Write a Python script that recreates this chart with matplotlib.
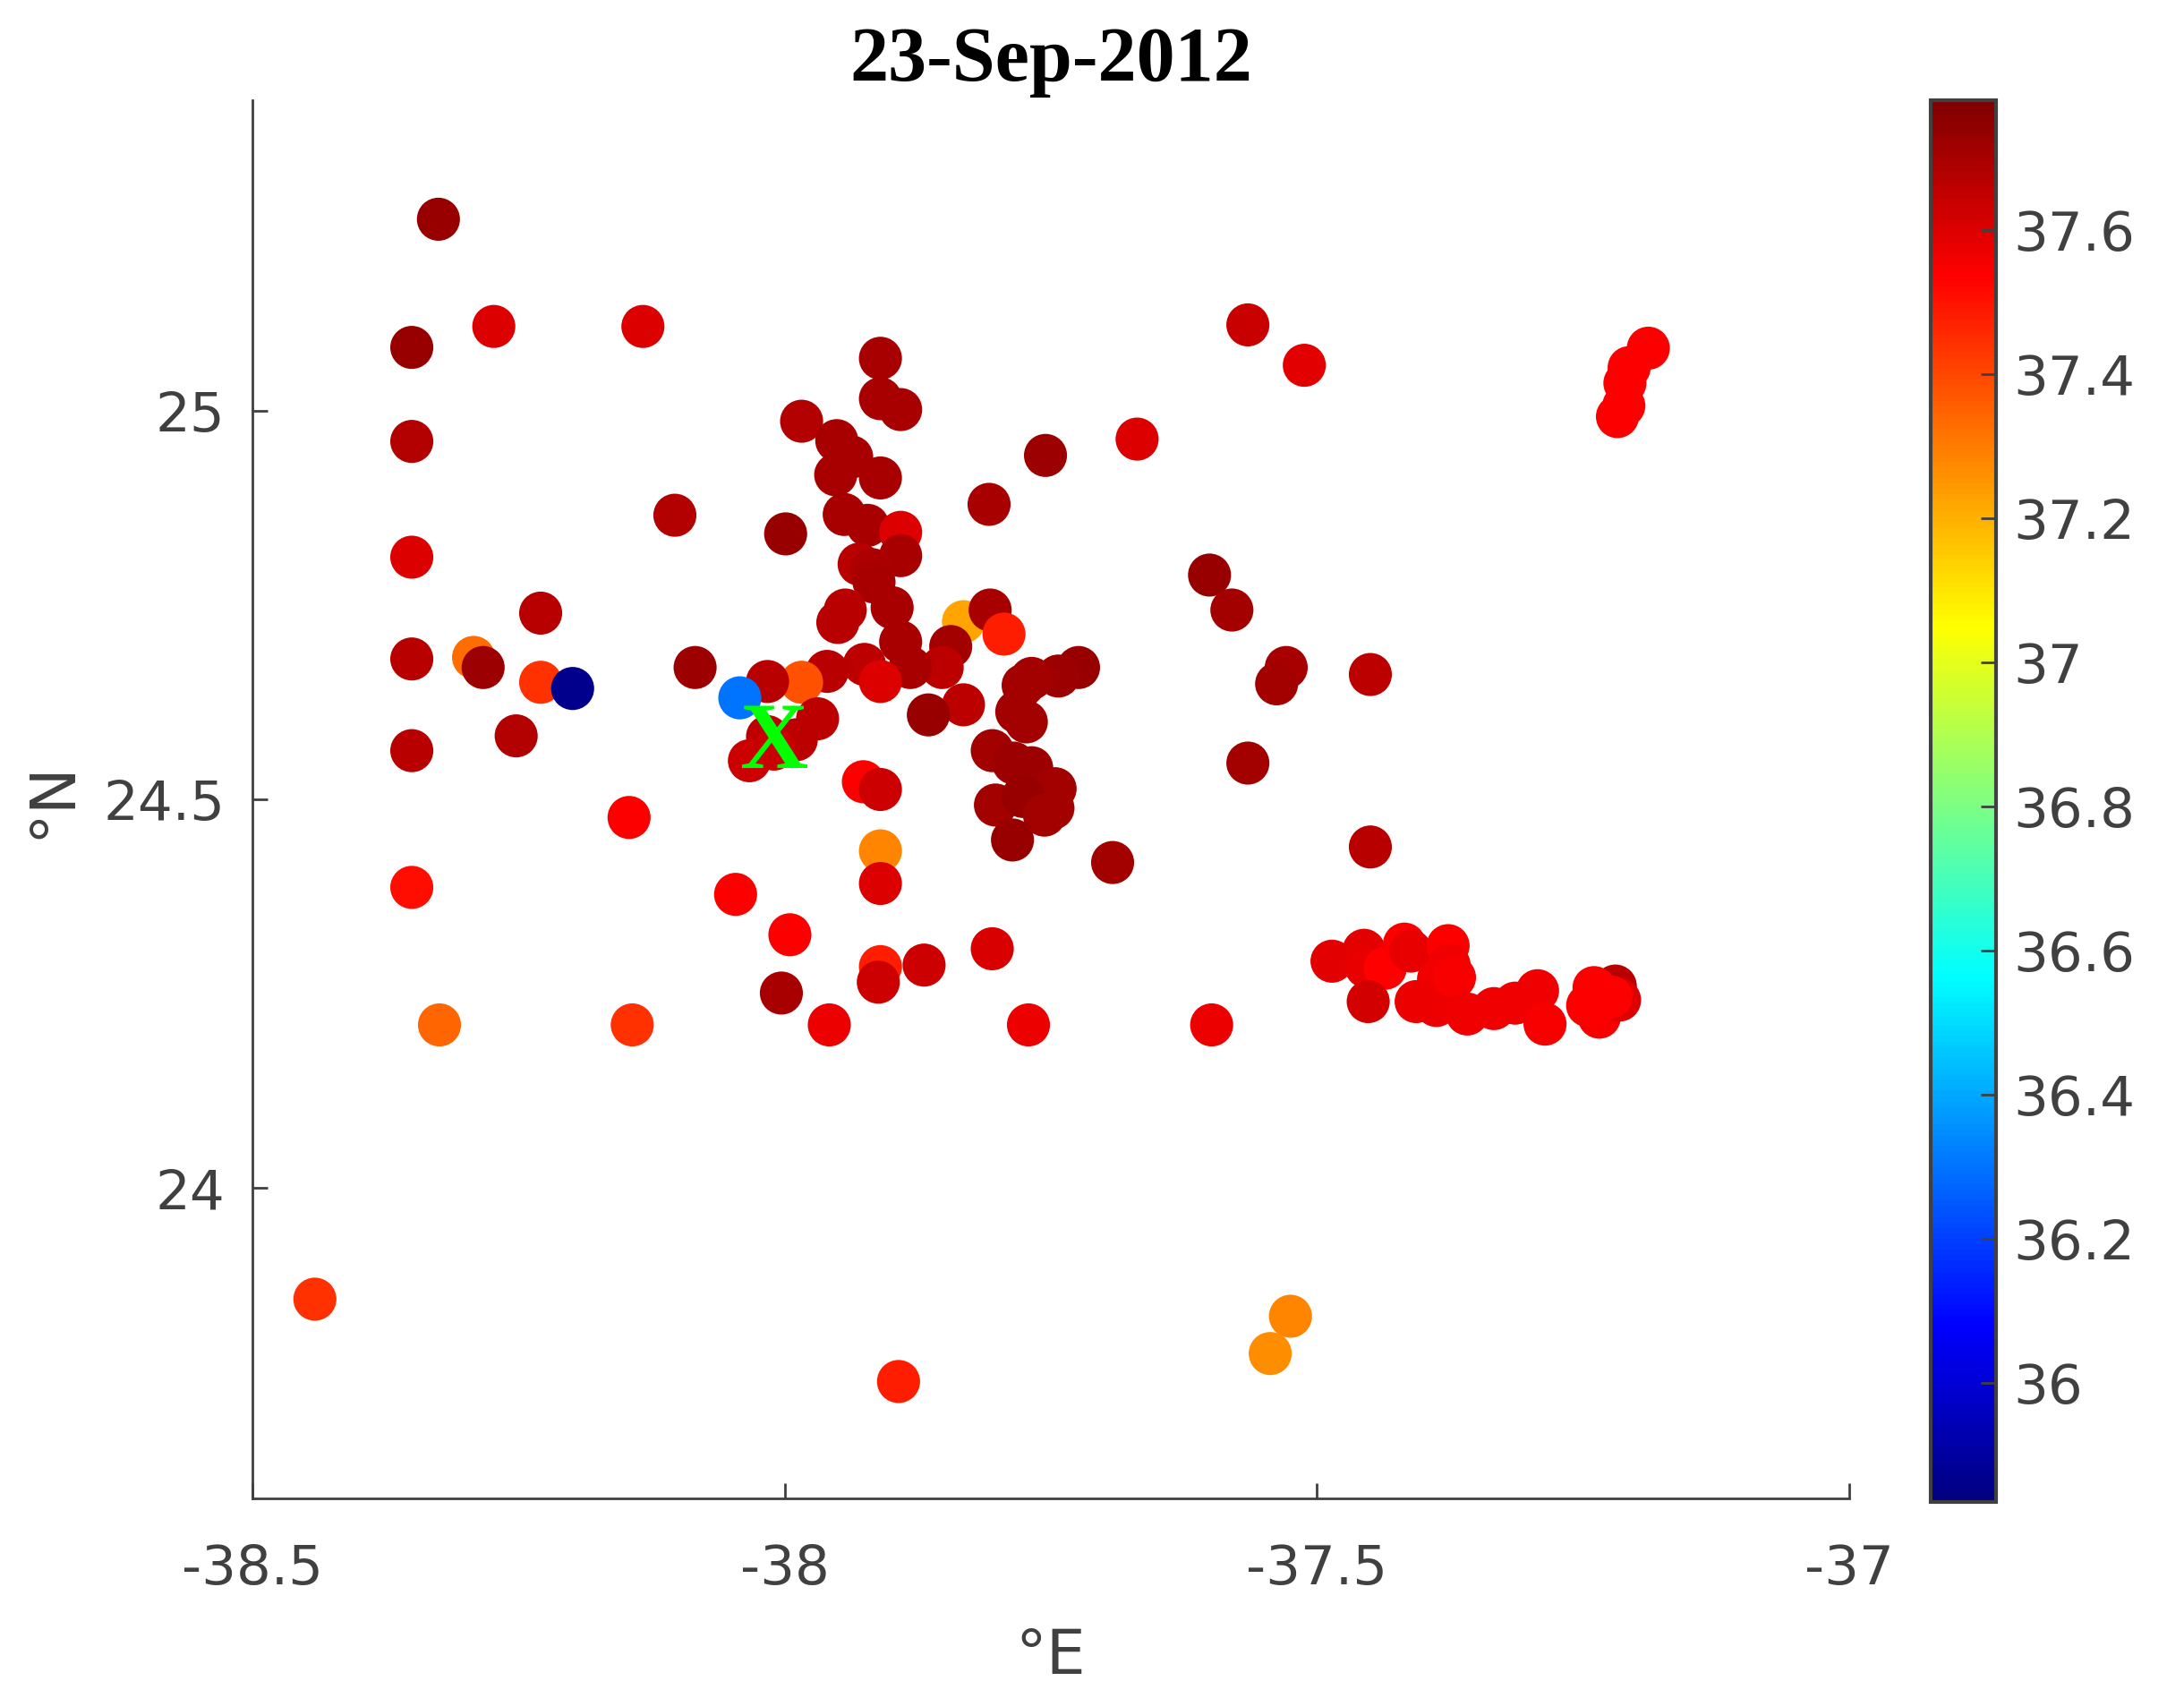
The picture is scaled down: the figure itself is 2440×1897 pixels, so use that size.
import numpy as np
import matplotlib
matplotlib.use("Agg")
import matplotlib.pyplot as plt
from matplotlib.colors import LinearSegmentedColormap

plt.rcParams["axes.unicode_minus"] = False
plt.rcParams["font.family"] = ["DejaVu Sans"]

# station positions (lon, lat) and surface value
lon = [-38.325, -38.350, -38.273, -38.133, -38.350, -38.103, -38.350, -38.229, -38.350, -38.292,
       -38.283, -38.229, -38.199, -38.084, -38.252, -38.350, -38.146, -38.350, -38.046, -38.324,
       -38.143, -38.441,
       -37.910, -37.910, -37.891, -37.984, -37.951, -37.937, -37.952, -37.910, -37.755, -37.808,
       -37.999, -37.944, -37.922, -37.891, -37.891, -37.930, -37.918, -37.916, -37.943, -37.950,
       -37.899, -37.832, -37.807, -37.794, -37.844, -37.891, -37.852, -37.882, -37.925, -37.910,
       -37.960, -37.984, -38.016, -38.042, -37.969, -37.989, -38.016, -38.033, -38.010, -37.832,
       -37.865, -37.724, -37.743, -37.768, -37.776, -37.782, -37.773, -37.805, -37.768, -37.785,
       -37.746, -37.748, -37.802, -37.776, -37.756, -37.786, -37.692, -37.926, -37.910, -37.910,
       -37.910, -37.995, -37.805, -37.910, -37.912, -37.869, -38.003, -37.958, -37.771, -37.599,
       -37.893,
       -37.565, -37.512, -37.669, -37.601, -37.580, -37.529, -37.538, -37.450, -37.565, -37.450,
       -37.189, -37.207, -37.211, -37.212, -37.218, -37.544, -37.525,
       -37.220, -37.486, -37.456, -37.454, -37.436, -37.452, -37.418, -37.412, -37.377, -37.376,
       -37.386, -37.407, -37.388, -37.371, -37.359, -37.334, -37.314, -37.293, -37.286, -37.240,
       -37.235, -37.216, -37.246, -37.224]
lat = [25.247, 25.082, 25.109, 25.109, 24.961, 24.866, 24.812, 24.740, 24.681, 24.683,
       24.670, 24.651, 24.643, 24.670, 24.582, 24.563, 24.477, 24.387, 24.378, 24.210,
       24.210, 23.857,
       25.068, 25.016, 25.002, 24.987, 24.962, 24.941, 24.918, 24.914, 24.943, 24.880,
       24.842, 24.867, 24.853, 24.844, 24.814, 24.803, 24.796, 24.780, 24.744, 24.728,
       24.747, 24.729, 24.744, 24.713, 24.697, 24.703, 24.670, 24.670, 24.674, 24.652,
       24.665, 24.651, 24.652, 24.631, 24.604, 24.577, 24.581, 24.550, 24.565, 24.622,
       24.609, 24.670, 24.659, 24.656, 24.647, 24.613, 24.600, 24.563, 24.541, 24.547,
       24.514, 24.489, 24.493, 24.504, 24.480, 24.448, 24.419, 24.523, 24.513, 24.434,
       24.392, 24.326, 24.308, 24.285, 24.265, 24.287, 24.251, 24.210, 24.210, 24.210,
       23.751,
       25.111, 25.059, 24.964, 24.789, 24.744, 24.670, 24.649, 24.661, 24.547, 24.439,
       25.081, 25.056, 25.036, 25.007, 24.993, 23.787, 23.835,
       24.260, 24.292, 24.306, 24.285, 24.283, 24.240, 24.314, 24.305, 24.312, 24.287,
       24.269, 24.240, 24.235, 24.271, 24.224, 24.231, 24.238, 24.254, 24.211, 24.258,
       24.220, 24.242, 24.235, 24.246]
val = [37.73, 37.73, 37.60, 37.60, 37.68, 37.68, 37.60, 37.67, 37.67, 37.33,
       37.72, 37.44, 35.86, 37.72, 37.68, 37.67, 37.54, 37.51, 37.54, 37.34,
       37.44, 37.44,
       37.70, 37.70, 37.70, 37.68, 37.70, 37.70, 37.70, 37.70, 37.72, 37.70,
       37.73, 37.70, 37.70, 37.60, 37.70, 37.67, 37.69, 37.70, 37.67, 37.67,
       37.70, 37.22, 37.70, 37.48, 37.71, 37.70, 37.66, 37.70, 37.66, 37.60,
       37.67, 37.38, 37.67, 36.30, 37.66, 37.66, 37.66, 37.63, 37.64, 37.66,
       37.73, 37.73, 37.72, 37.71, 37.71, 37.71, 37.71, 37.71, 37.72, 37.72,
       37.71, 37.71, 37.71, 37.73, 37.71, 37.73, 37.71, 37.54, 37.63, 37.28,
       37.60, 37.54, 37.61, 37.48, 37.63, 37.63, 37.70, 37.57, 37.57, 37.57,
       37.48,
       37.64, 37.59, 37.60, 37.73, 37.71, 37.70, 37.71, 37.66, 37.71, 37.67,
       37.54, 37.54, 37.54, 37.54, 37.54, 37.265, 37.28,
       37.67, 37.59, 37.59, 37.58, 37.53, 37.62, 37.54, 37.58, 37.54, 37.56,
       37.56, 37.57, 37.57, 37.55, 37.56, 37.56, 37.56, 37.56, 37.55, 37.54,
       37.55, 37.60, 37.54, 37.54]

x_ticks = [-38.5, -38, -37.5, -37]
x_ticklabels = ["-38.5", "-38", "-37.5", "-37"]
y_ticks = [24, 24.5, 25]
y_ticklabels = ["24", "24.5", "25"]
c_ticks = [36, 36.2, 36.4, 36.6, 36.8, 37, 37.2, 37.4, 37.6]
c_ticklabels = ["36", "36.2", "36.4", "36.6", "36.8", "37", "37.2", "37.4", "37.6"]
cmin, cmax = 35.835, 37.78
site_lon, site_lat = -38.01, 24.57

# matlab style jet
mjet = LinearSegmentedColormap("mjet", {
    "red":   [(0, 0, 0), (0.375, 0, 0), (0.625, 1, 1), (0.875, 1, 1), (1, 0.5, 0.5)],
    "green": [(0, 0, 0), (0.125, 0, 0), (0.375, 1, 1), (0.625, 1, 1), (0.875, 0, 0), (1, 0, 0)],
    "blue":  [(0, 0.5, 0.5), (0.125, 1, 1), (0.375, 1, 1), (0.625, 0, 0), (1, 0, 0)],
}, N=256)

gray = "#404040"
fig = plt.figure(figsize=(12.2, 9.485), dpi=200)
ax = fig.add_axes([0.1154, 0.1173, 0.7315, 0.8236])
cax = fig.add_axes([0.8839, 0.1157, 0.0300, 0.8253])

sc = ax.scatter(lon, lat, c=val, cmap=mjet, vmin=cmin, vmax=cmax, s=300,
                edgecolors="none", zorder=2)
ax.text(site_lon, site_lat, "X", color="#00ff00", fontsize=38, fontweight="bold",
        family="Liberation Serif", ha="center", va="center", zorder=3)

ax.set_xlim(-38.5, -37)
ax.set_ylim(23.6, 25.4)
ax.set_xticks(x_ticks)
ax.set_xticklabels(x_ticklabels)
ax.set_yticks(y_ticks)
ax.set_yticklabels(y_ticklabels)
ax.tick_params(direction="in", length=6, width=1.0, colors=gray, labelsize=22)
ax.tick_params(axis="x", pad=18)
ax.tick_params(axis="y", pad=11)
for side in ["top", "right"]:
    ax.spines[side].set_visible(False)
for side in ["left", "bottom"]:
    ax.spines[side].set_color(gray)
    ax.spines[side].set_linewidth(1.0)

ax.set_xlabel("°E", fontsize=25, color=gray, labelpad=12)
ax.set_ylabel("°N", fontsize=25, color=gray, labelpad=8)
ax.set_title("23-Sep-2012", fontsize=31, fontweight="bold", family="Liberation Serif", pad=8)

cb = fig.colorbar(sc, cax=cax)
cb.set_ticks(c_ticks)
cb.set_ticklabels(c_ticklabels)
cb.ax.tick_params(direction="in", length=6, width=1.0, colors=gray, labelsize=22, pad=7)
cb.outline.set_edgecolor(gray)
cb.outline.set_linewidth(1.5)

fig.savefig("out.png", dpi=200)
